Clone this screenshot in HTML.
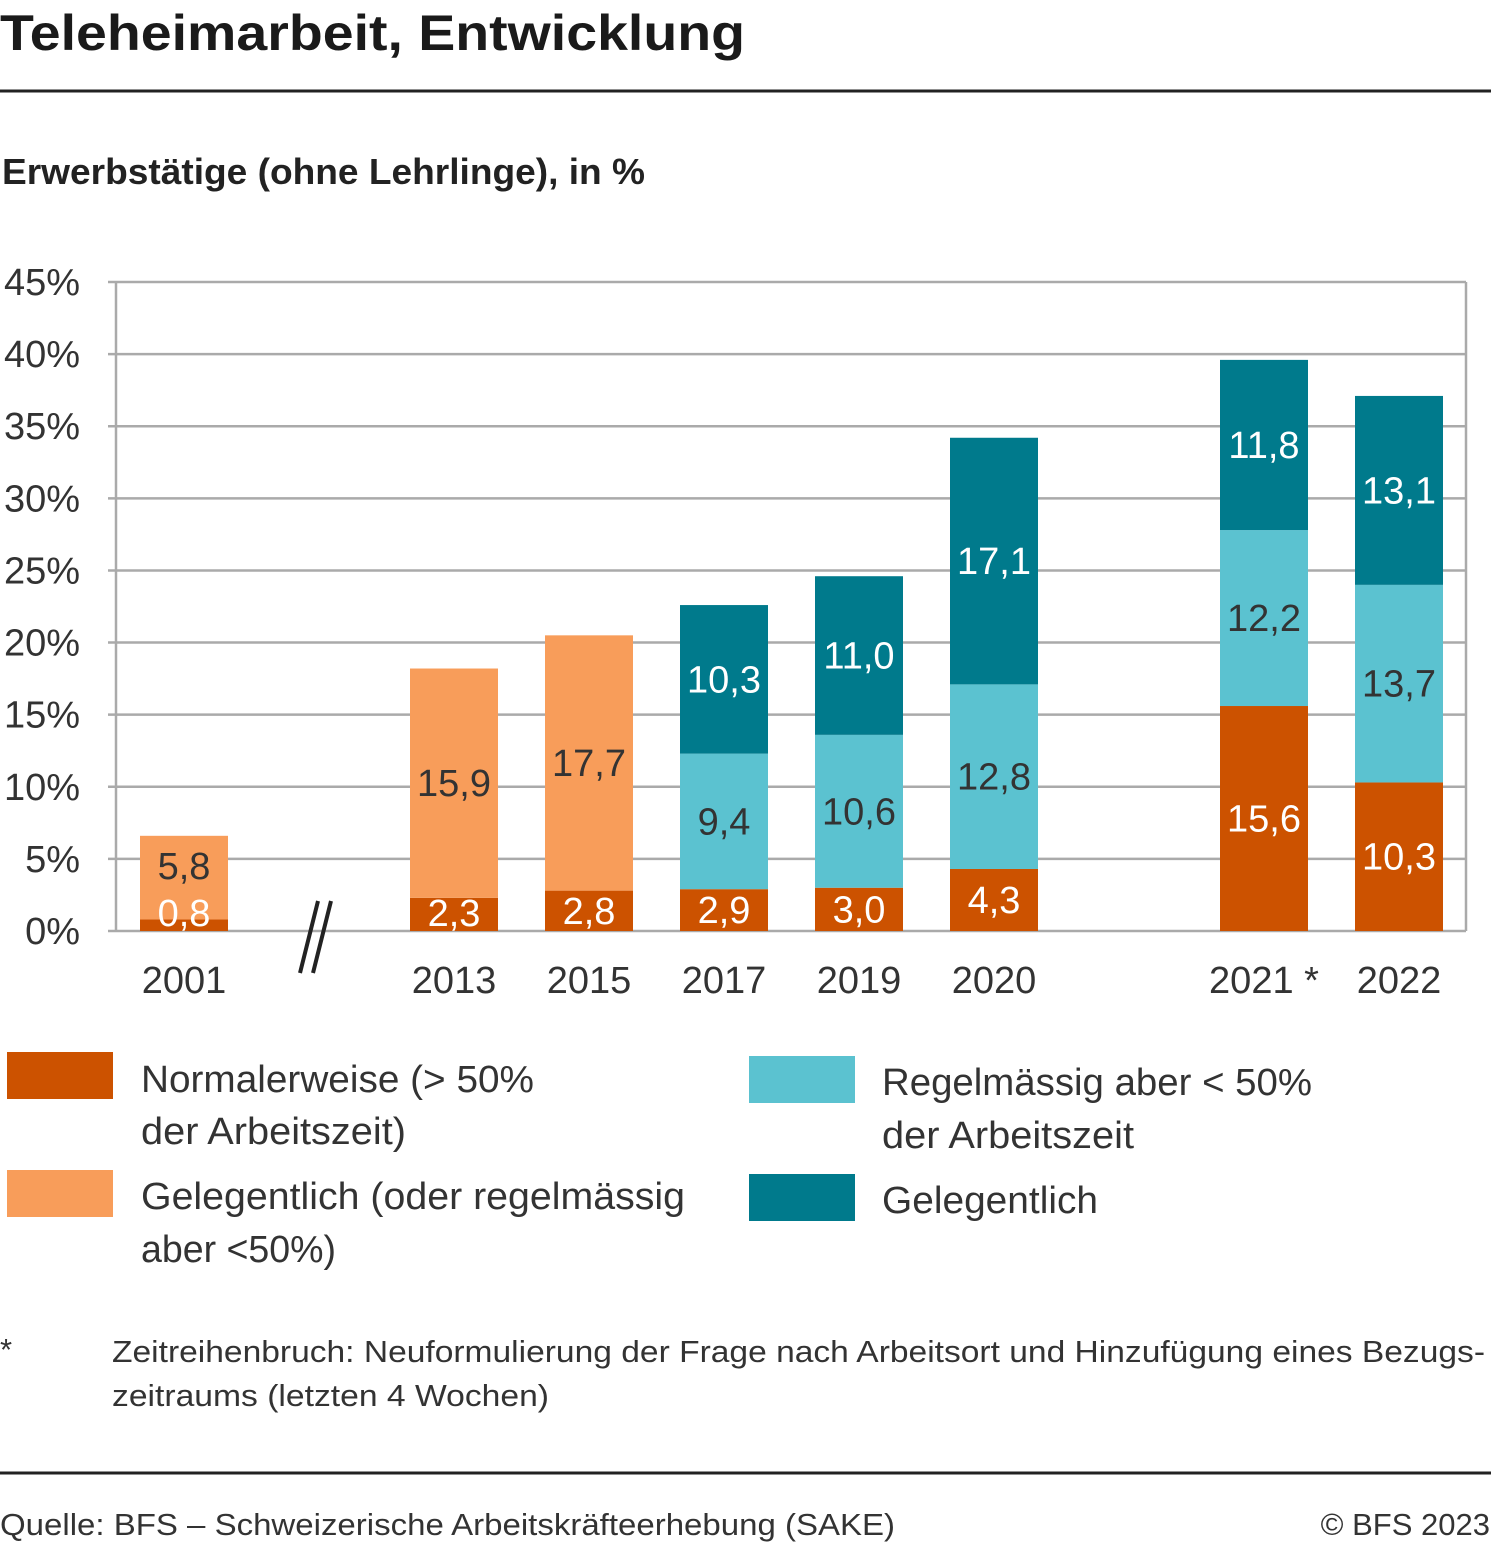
<!DOCTYPE html>
<html><head><meta charset="utf-8"><style>
body{margin:0;width:1491px;height:1544px;background:#fff;font-family:"Liberation Sans",sans-serif;color:#222;overflow:hidden}
</style></head><body>
<svg width="1491" height="1544" xmlns="http://www.w3.org/2000/svg" font-family="Liberation Sans, sans-serif">
<text x="0" y="50" font-size="50" font-weight="bold" fill="#1a1a1a" textLength="745" lengthAdjust="spacingAndGlyphs">Teleheimarbeit, Entwicklung</text>
<line x1="0" y1="91" x2="1491" y2="91" stroke="#222" stroke-width="3"/>
<text x="2" y="184" font-size="36" font-weight="bold" fill="#222" textLength="643" lengthAdjust="spacingAndGlyphs">Erwerbstätige (ohne Lehrlinge), in %</text>
<g id="grid"></g>
<g id="bars"></g>
<g id="labels"></g>
<g id="xlabels"></g>
<g><line x1="300" y1="973" x2="318" y2="901" stroke="#222" stroke-width="4"/><line x1="313" y1="973" x2="331" y2="901" stroke="#222" stroke-width="4"/></g>
<g font-size="38" fill="#333">
<rect x="7" y="1052" width="106" height="47" fill="#cc5200"/>
<text x="141" y="1092" textLength="393" lengthAdjust="spacingAndGlyphs">Normalerweise (&gt; 50%</text>
<text x="141" y="1144" textLength="265" lengthAdjust="spacingAndGlyphs">der Arbeitszeit)</text>
<rect x="7" y="1170" width="106" height="47" fill="#f89d5a"/>
<text x="141" y="1209" textLength="544" lengthAdjust="spacingAndGlyphs">Gelegentlich (oder regelmässig</text>
<text x="141" y="1262" textLength="195" lengthAdjust="spacingAndGlyphs">aber &lt;50%)</text>
<rect x="749" y="1056" width="106" height="47" fill="#5bc2d0"/>
<text x="882" y="1095" textLength="430" lengthAdjust="spacingAndGlyphs">Regelmässig aber &lt; 50%</text>
<text x="882" y="1148" textLength="252" lengthAdjust="spacingAndGlyphs">der Arbeitszeit</text>
<rect x="749" y="1174" width="106" height="47" fill="#007a8c"/>
<text x="882" y="1213" textLength="216" lengthAdjust="spacingAndGlyphs">Gelegentlich</text>
</g>
<g font-size="31" fill="#333">
<text x="0" y="1360">*</text>
<text x="112" y="1362" textLength="1373" lengthAdjust="spacingAndGlyphs">Zeitreihenbruch: Neuformulierung der Frage nach Arbeitsort und Hinzufügung eines Bezugs-</text>
<text x="112" y="1406" textLength="437" lengthAdjust="spacingAndGlyphs">zeitraums (letzten 4 Wochen)</text>
</g>
<line x1="0" y1="1473" x2="1491" y2="1473" stroke="#222" stroke-width="3"/>
<text x="0" y="1535" font-size="31" fill="#333" textLength="895" lengthAdjust="spacingAndGlyphs">Quelle: BFS – Schweizerische Arbeitskräfteerhebung (SAKE)</text>
<text x="1490" y="1535" font-size="31" fill="#333" text-anchor="end">© BFS 2023</text>
</svg>
<script>
const categories=["2001","2013","2015","2017","2019","2020","2021 *","2022"];
const slots=[0,2,3,4,5,6,8,9];
const normal=[0.8,2.3,2.8,2.9,3.0,4.3,15.6,10.3];
const occasionalOld=[5.8,15.9,17.7,0,0,0,0,0];
const regular=[0,0,0,9.4,10.6,12.8,12.2,13.7];
const occasional=[0,0,0,10.3,11.0,17.1,11.8,13.1];
const yTicks=[0,5,10,15,20,25,30,35,40,45];
const NS="http://www.w3.org/2000/svg";
const y=v=>931-v*(649/45);
const x=s=>184+135*s;
const grid=document.getElementById('grid');
const labels=document.getElementById('labels');
function mk(tag,attrs,parent,txt){const e=document.createElementNS(NS,tag);for(const k in attrs)e.setAttribute(k,attrs[k]);if(txt!=null)e.textContent=txt;parent.appendChild(e);return e;}
yTicks.forEach(t=>{
 const l=mk('line',{x1:108,x2:1466,y1:y(t),y2:y(t),stroke:'#aaa','stroke-width':2.5},grid);
 
 
 const tx=mk('text',{x:80,y:y(t)+13,'font-size':38,'text-anchor':'end',fill:'#333'},grid,t+'%');
 
 
});
const ax=mk('line',{x1:116,x2:116,y1:282,y2:931,stroke:'#aaa','stroke-width':2.5},grid);


const rb=mk('line',{x1:1466,x2:1466,y1:282,y2:931,stroke:'#aaa','stroke-width':2.5},grid);


const bars=document.getElementById('bars');
const series=[[normal,'#cc5200','#fff','normal'],[occasionalOld,'#f89d5a','#333','occasional-old'],[regular,'#5bc2d0','#333','regular'],[occasional,'#007a8c','#fff','occasional']];
categories.forEach((c,i)=>{
 let base=0;
 series.forEach(([arr,col,tc,nm])=>{
  const v=arr[i]; if(!v) return;
  const r=mk('rect',{x:x(slots[i])-44,width:88,y:y(base+v),height:y(base)-y(base+v),fill:col},bars);
  
  
  let cy=(y(base)+y(base+v))/2; if(cy>913)cy=913;
  if(nm==='occasional-old'&&i===0)cy=866;
  const t=mk('text',{x:x(slots[i]),y:cy+13,'font-size':38,'text-anchor':'middle',fill:tc},labels,v.toFixed(1).replace('.',','));
  
  
  base+=v;
 });
 const xl=mk('text',{x:x(slots[i]),y:993,'font-size':38,'text-anchor':'middle',fill:'#333'},document.getElementById('xlabels'),c);
 
 
});
</script>
</body></html>
